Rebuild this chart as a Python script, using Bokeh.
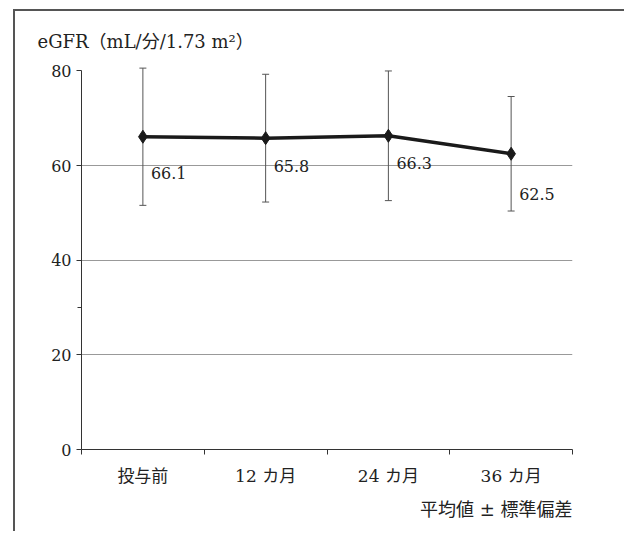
from bokeh.plotting import figure
from bokeh.models import (ColumnDataSource, FactorRange, Range1d, LinearAxis,
                          FixedTicker, Whisker, TeeHead, Title)
from bokeh.core.properties import value
from bokeh.embed import file_html
from bokeh.resources import INLINE

# ---- data ----
categories = ["投与前", "12カ月", "24カ月", "36カ月"]
axis_labels = ["投与前", "12 カ月", "24 カ月", "36 カ月"]
means = [66.1, 65.8, 66.3, 62.5]
sds = [14.5, 13.5, 13.7, 12.1]
y_ticks = [0, 20, 40, 60, 80]
grid_ticks = [20, 40, 60]
title_text = "eGFR（mL/分/1.73 m²）"
note_text = "平均値 ± 標準偏差"

# ---- styles ----
FONT = "'DejaVu Serif', 'Noto Sans CJK JP'"
label_dy = [36, 28, 27, 40]

src = ColumnDataSource(dict(
    cat=categories,
    mean=means,
    upper=[m + s for m, s in zip(means, sds)],
    lower=[m - s for m, s in zip(means, sds)],
    label=[f"{m:.1f}" for m in means],
    dy=label_dy,
))

p = figure(frame_width=491, frame_height=388, x_range=FactorRange(*categories, range_padding=0),
           y_range=Range1d(0, 82), output_backend="svg", toolbar_location=None,
           x_axis_location=None, y_axis_location=None,
           min_border_left=66, min_border_right=53, min_border_top=50, min_border_bottom=82)
p.outline_line_color = None
p.margin = (9, 0, 0, 13)
p.styles = {"border-left": "2px solid #555", "border-top": "2px solid #555",
            "border-right": "2px solid #555"}

# y axis
yax = LinearAxis(bounds=(0, 80), ticker=FixedTicker(ticks=y_ticks, minor_ticks=[30]))
yax.major_tick_in = 0
yax.major_tick_out = 5
yax.minor_tick_in = 0
yax.minor_tick_out = 4
yax.axis_line_color = "#333"
yax.major_tick_line_color = "#333"
yax.minor_tick_line_color = "#333"
yax.major_label_text_font = FONT
yax.major_label_text_font_size = "16px"
yax.major_label_text_color = "#222"
yax.major_label_standoff = 5
p.add_layout(yax, "left")

# x axis: labels at category centres, ticks at category boundaries
# (positions in the categorical range's synthetic coordinates)
n_cat = len(categories)
centres = [i + 0.5 for i in range(n_cat)]
xax = LinearAxis(ticker=FixedTicker(ticks=centres, minor_ticks=list(range(n_cat + 1))))
xax.major_label_overrides = dict(zip(centres, axis_labels))
xax.major_tick_in = 0
xax.major_tick_out = 0
xax.major_tick_line_color = None
xax.minor_tick_in = 0
xax.minor_tick_out = 5
xax.minor_tick_line_color = "#333"
xax.axis_line_color = "#333"
xax.major_label_text_font = FONT
xax.major_label_text_font_size = "17px"
xax.major_label_text_color = "#222"
xax.major_label_standoff = 11
p.add_layout(xax, "below")

# grid
p.xgrid.visible = False
p.ygrid.ticker = FixedTicker(ticks=grid_ticks)
p.ygrid.grid_line_color = "#999"
p.ygrid.grid_line_width = 1

# title and note
t = Title(text=title_text, align="left", offset=-44, standoff=20,
          text_font=FONT, text_font_size="18px", text_font_style="normal", text_color="#222")
p.add_layout(t, "above")
n = Title(text=note_text, align="right", offset=0, standoff=16,
          text_font=FONT, text_font_size="18px", text_font_style="normal", text_color="#222")
p.add_layout(n, "below")

# error bars
w = Whisker(base="cat", upper="upper", lower="lower", source=src,
            line_color="#555", line_width=1,
            upper_head=TeeHead(size=7, line_color="#555", line_width=1),
            lower_head=TeeHead(size=7, line_color="#555", line_width=1))
p.add_layout(w)

p.line("cat", "mean", source=src, line_width=3.5, line_color="#1a1a1a")
p.scatter("cat", "mean", source=src, marker="diamond", size=13, color="#1a1a1a")
p.text("cat", "mean", text="label", source=src, x_offset=8, y_offset="dy",
       text_align="left", text_baseline="middle", text_font=value(FONT),
       text_font_size="16px", text_color="#222")

open("out.html", "w").write(file_html(p, INLINE))
